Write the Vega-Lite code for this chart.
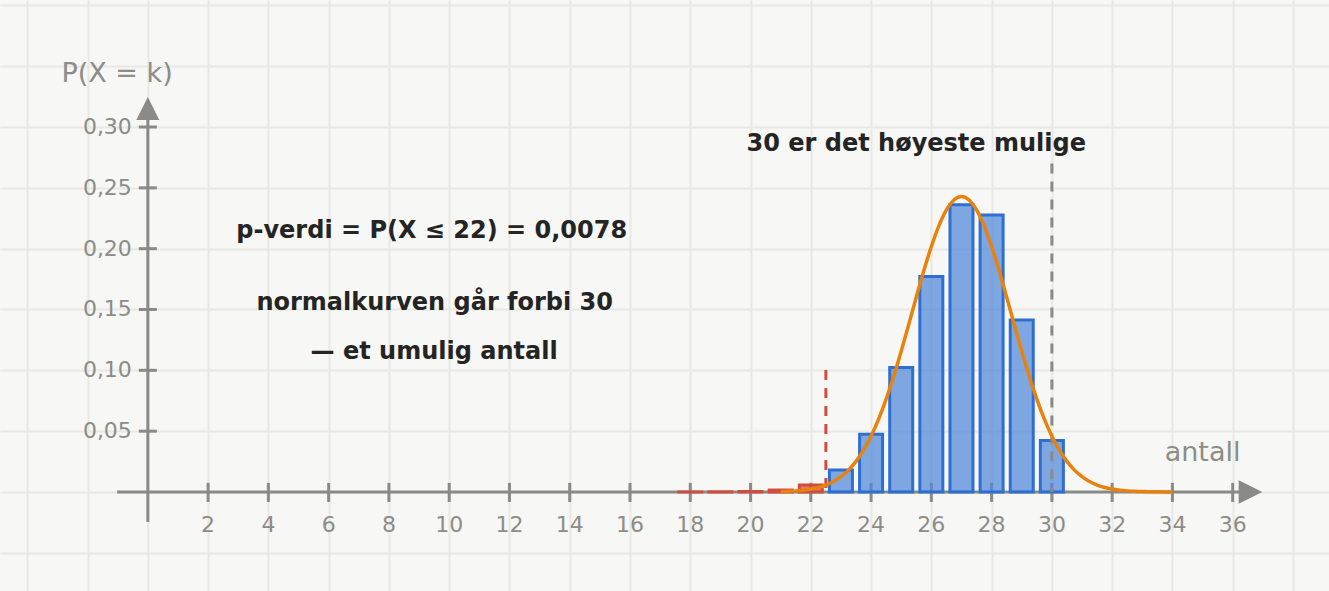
{
  "$schema": "https://vega.github.io/schema/vega-lite/v6.json",
  "width": 1329,
  "height": 591,
  "autosize": {"type": "none"},
  "padding": 0,
  "background": "#f7f7f5",
  "config": {
    "view": {"stroke": null},
    "axis": {"labels": false, "ticks": false, "domain": false, "grid": true, "gridColor": "#e8e8e4", "gridWidth": 2, "minExtent": 0, "maxExtent": 0}
  },
  "datasets": {
    "pmf": [
      {"k": 18, "p": 0.00001, "gruppe": "forkast"},
      {"k": 19, "p": 0.00007, "gruppe": "forkast"},
      {"k": 20, "p": 0.00037, "gruppe": "forkast"},
      {"k": 21, "p": 0.0016, "gruppe": "forkast"},
      {"k": 22, "p": 0.0058, "gruppe": "forkast"},
      {"k": 23, "p": 0.018, "gruppe": "ikke"},
      {"k": 24, "p": 0.0474, "gruppe": "ikke"},
      {"k": 25, "p": 0.1023, "gruppe": "ikke"},
      {"k": 26, "p": 0.1771, "gruppe": "ikke"},
      {"k": 27, "p": 0.2361, "gruppe": "ikke"},
      {"k": 28, "p": 0.2277, "gruppe": "ikke"},
      {"k": 29, "p": 0.1413, "gruppe": "ikke"},
      {"k": 30, "p": 0.0424, "gruppe": "ikke"}
    ],
    "curve": [
      {"k": 21.0, "p": 0.00031}, {"k": 21.25, "p": 0.00053}, {"k": 21.5, "p": 0.0009}, {"k": 21.75, "p": 0.00148},
      {"k": 22.0, "p": 0.00237}, {"k": 22.25, "p": 0.00372}, {"k": 22.5, "p": 0.00571}, {"k": 22.75, "p": 0.00856},
      {"k": 23.0, "p": 0.01254}, {"k": 23.25, "p": 0.01796}, {"k": 23.5, "p": 0.02512}, {"k": 23.75, "p": 0.03434},
      {"k": 24.0, "p": 0.04587}, {"k": 24.25, "p": 0.05985}, {"k": 24.5, "p": 0.07632}, {"k": 24.75, "p": 0.09509},
      {"k": 25.0, "p": 0.11576}, {"k": 25.25, "p": 0.13772}, {"k": 25.5, "p": 0.16008}, {"k": 25.75, "p": 0.18181},
      {"k": 26.0, "p": 0.20177}, {"k": 26.25, "p": 0.2188}, {"k": 26.5, "p": 0.23184}, {"k": 26.75, "p": 0.24003},
      {"k": 27.0, "p": 0.24282},
      {"k": 27.25, "p": 0.24003}, {"k": 27.5, "p": 0.23184}, {"k": 27.75, "p": 0.2188}, {"k": 28.0, "p": 0.20177},
      {"k": 28.25, "p": 0.18181}, {"k": 28.5, "p": 0.16008}, {"k": 28.75, "p": 0.13772}, {"k": 29.0, "p": 0.11576},
      {"k": 29.25, "p": 0.09509}, {"k": 29.5, "p": 0.07632}, {"k": 29.75, "p": 0.05985}, {"k": 30.0, "p": 0.04587},
      {"k": 30.25, "p": 0.03434}, {"k": 30.5, "p": 0.02512}, {"k": 30.75, "p": 0.01796}, {"k": 31.0, "p": 0.01254},
      {"k": 31.25, "p": 0.00856}, {"k": 31.5, "p": 0.00571}, {"k": 31.75, "p": 0.00372}, {"k": 32.0, "p": 0.00237},
      {"k": 32.25, "p": 0.00148}, {"k": 32.5, "p": 0.0009}, {"k": 32.75, "p": 0.00053}, {"k": 33.0, "p": 0.00031},
      {"k": 33.5, "p": 0.0001}, {"k": 34.0, "p": 0.00003}
    ],
    "xticks": [
      {"k": 2}, {"k": 4}, {"k": 6}, {"k": 8}, {"k": 10}, {"k": 12}, {"k": 14}, {"k": 16}, {"k": 18},
      {"k": 20}, {"k": 22}, {"k": 24}, {"k": 26}, {"k": 28}, {"k": 30}, {"k": 32}, {"k": 34}, {"k": 36}
    ],
    "yticks": [
      {"p": 0.05, "label": "0,05"}, {"p": 0.1, "label": "0,10"}, {"p": 0.15, "label": "0,15"},
      {"p": 0.2, "label": "0,20"}, {"p": 0.25, "label": "0,25"}, {"p": 0.3, "label": "0,30"}
    ],
    "notes": [
      {"k": 25.5, "p": 0.2862, "tekst": "30 er det høyeste mulige"},
      {"k": 9.42, "p": 0.2148, "tekst": "p-verdi = P(X ≤ 22) = 0,0078"},
      {"k": 9.52, "p": 0.1552, "tekst": "normalkurven går forbi 30"},
      {"k": 9.5, "p": 0.1152, "tekst": "— et umulig antall"}
    ],
    "axislabels": [
      {"k": -1.02, "p": 0.3435, "tekst": "P(X = k)"},
      {"k": 35.0, "p": 0.0318, "tekst": "antall"}
    ],
    "one": [{}]
  },
  "layer": [
    {
      "data": {"name": "one"},
      "mark": {"type": "rule", "color": "#8a8a86", "strokeWidth": 3},
      "encoding": {
        "x": {"datum": -1.02, "type": "quantitative", "title": null, "scale": {"domain": [-4.74, 39.03], "nice": false, "zero": false}, "axis": {"title": null, "values": [-4, -2, 0, 2, 4, 6, 8, 10, 12, 14, 16, 18, 20, 22, 24, 26, 28, 30, 32, 34, 36, 38]}},
        "x2": {"datum": 36.4},
        "y": {"datum": 0, "type": "quantitative", "title": null, "scale": {"domain": [-0.0814, 0.4044], "nice": false, "zero": false}, "axis": {"title": null, "values": [-0.05, 0, 0.05, 0.1, 0.15, 0.2, 0.25, 0.3, 0.35, 0.4]}}
      }
    },
    {
      "data": {"name": "one"},
      "mark": {"type": "rule", "color": "#8a8a86", "strokeWidth": 3},
      "encoding": {
        "x": {"datum": 0, "type": "quantitative", "title": null},
        "y": {"datum": -0.0247, "type": "quantitative", "title": null},
        "y2": {"datum": 0.31}
      }
    },
    {
      "data": {"name": "one"},
      "mark": {"type": "point", "shape": "M-1,1L0,-1L1,1Z", "filled": true, "size": 530, "color": "#8a8a86", "opacity": 1},
      "encoding": {
        "x": {"datum": 0, "type": "quantitative", "title": null},
        "y": {"datum": 0.3152, "type": "quantitative", "title": null}
      }
    },
    {
      "data": {"name": "one"},
      "mark": {"type": "point", "shape": "M-1,-1L1,0L-1,1Z", "filled": true, "size": 560, "color": "#8a8a86", "opacity": 1},
      "encoding": {
        "x": {"datum": 36.59, "type": "quantitative", "title": null},
        "y": {"datum": 0, "type": "quantitative", "title": null}
      }
    },
    {
      "data": {"name": "xticks"},
      "mark": {"type": "rule", "color": "#8a8a86", "strokeWidth": 3},
      "encoding": {
        "x": {"field": "k", "type": "quantitative", "title": null},
        "y": {"datum": 0.0075, "type": "quantitative", "title": null},
        "y2": {"datum": -0.0082}
      }
    },
    {
      "data": {"name": "yticks"},
      "mark": {"type": "rule", "color": "#8a8a86", "strokeWidth": 3},
      "encoding": {
        "y": {"field": "p", "type": "quantitative", "title": null},
        "x": {"datum": -0.3, "type": "quantitative", "title": null},
        "x2": {"datum": 0.3}
      }
    },
    {
      "data": {"name": "xticks"},
      "mark": {"type": "text", "color": "#8c8c88", "font": "DejaVu Sans", "fontSize": 22, "baseline": "middle", "align": "center"},
      "encoding": {
        "x": {"field": "k", "type": "quantitative", "title": null},
        "y": {"datum": -0.027, "type": "quantitative", "title": null},
        "text": {"field": "k", "type": "quantitative"}
      }
    },
    {
      "data": {"name": "yticks"},
      "mark": {"type": "text", "color": "#8c8c88", "font": "DejaVu Sans", "fontSize": 22, "baseline": "middle", "align": "right"},
      "encoding": {
        "x": {"datum": -0.53, "type": "quantitative", "title": null},
        "y": {"field": "p", "type": "quantitative", "title": null},
        "text": {"field": "label", "type": "nominal"}
      }
    },
    {
      "data": {"name": "pmf"},
      "mark": {"type": "bar", "width": 23, "strokeWidth": 3, "fillOpacity": 0.72},
      "encoding": {
        "x": {"field": "k", "type": "quantitative", "title": null},
        "y": {"field": "p", "type": "quantitative", "title": null},
        "y2": {"datum": 0},
        "fill": {"field": "gruppe", "type": "nominal", "scale": {"domain": ["forkast", "ikke"], "range": ["#d6493d", "#4f86d8"]}, "legend": null},
        "stroke": {"field": "gruppe", "type": "nominal", "scale": {"domain": ["forkast", "ikke"], "range": ["#d24c3e", "#2f6fd4"]}, "legend": null}
      }
    },
    {
      "data": {"name": "one"},
      "mark": {"type": "rule", "color": "#d24c3e", "strokeWidth": 3, "strokeDash": [10, 8]},
      "encoding": {
        "x": {"datum": 22.5, "type": "quantitative", "title": null},
        "y": {"datum": 0.1003, "type": "quantitative", "title": null},
        "y2": {"datum": 0}
      }
    },
    {
      "data": {"name": "one"},
      "mark": {"type": "rule", "color": "#8a8a86", "strokeWidth": 3, "strokeDash": [10, 8]},
      "encoding": {
        "x": {"datum": 30, "type": "quantitative", "title": null},
        "y": {"datum": 0.27, "type": "quantitative", "title": null},
        "y2": {"datum": 0}
      }
    },
    {
      "data": {"name": "curve"},
      "mark": {"type": "line", "color": "#e8820c", "strokeWidth": 3.5, "interpolate": "monotone"},
      "encoding": {
        "x": {"field": "k", "type": "quantitative", "title": null},
        "y": {"field": "p", "type": "quantitative", "title": null}
      }
    },
    {
      "data": {"name": "notes"},
      "mark": {"type": "text", "color": "#242424", "font": "DejaVu Sans", "fontSize": 24, "fontWeight": "bold", "baseline": "middle", "align": "center"},
      "encoding": {
        "x": {"field": "k", "type": "quantitative", "title": null},
        "y": {"field": "p", "type": "quantitative", "title": null},
        "text": {"field": "tekst", "type": "nominal"}
      }
    },
    {
      "data": {"name": "axislabels"},
      "mark": {"type": "text", "color": "#8c8c88", "font": "DejaVu Sans", "fontSize": 27, "baseline": "middle", "align": "center"},
      "encoding": {
        "x": {"field": "k", "type": "quantitative", "title": null},
        "y": {"field": "p", "type": "quantitative", "title": null},
        "text": {"field": "tekst", "type": "nominal"}
      }
    }
  ]
}
